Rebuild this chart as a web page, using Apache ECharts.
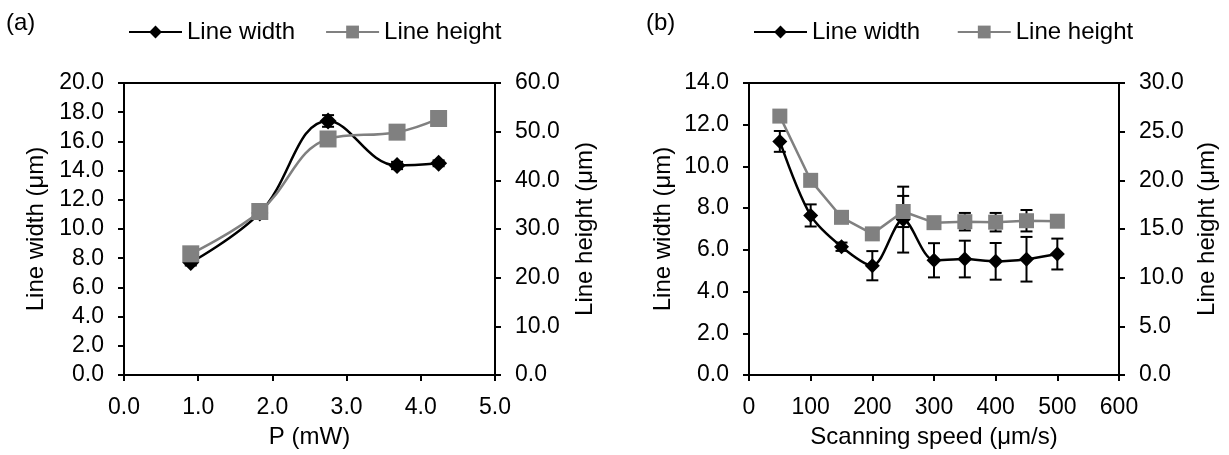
<!DOCTYPE html>
<html>
<head>
<meta charset="utf-8">
<script src="https://cdn.jsdelivr.net/npm/echarts@6/dist/echarts.min.js"></script>
<style>
  html, body { margin: 0; padding: 0; background: #fff; }
  #chart { width: 1229px; height: 455px; }
</style>
</head>
<body>
<div id="chart"></div>
<script>
  // (a) power series
  const powerMW = [0.9, 1.83, 2.75, 3.68, 4.24]
  const widthA = [7.7, 11.1, 17.4, 14.35, 14.5]
  const widthErrA = [0.2, 0.2, 0.4, 0.25, 0.2]
  const heightA = [24.9, 33.6, 48.5, 49.9, 52.7]
  const heightErrA = [0.3, 0.3, 0.4, 0.3, 0.3]

  // (b) scanning speed series
  const speed = [50, 100, 150, 200, 250, 300, 350, 400, 450, 500]
  const widthB = [11.2, 7.65, 6.15, 5.24, 7.45, 5.5, 5.56, 5.45, 5.55, 5.8]
  const widthErrB = [0.5, 0.53, 0.2, 0.7, 1.58, 0.82, 0.88, 0.88, 1.07, 0.74]
  const heightB = [26.6, 20.0, 16.2, 14.5, 16.8, 15.65, 15.75, 15.7, 15.85, 15.8]
  const heightErrB = [0.5, 0.4, 0.4, 0.4, 1.6, 0.5, 0.9, 0.95, 1.1, 0.5]

  const FONT = 'Liberation Sans'
  const FS = 23   // tick labels
  const FN = 24   // names, legend
  const GRAY = '#808080'

  const zip = (xs, ys) => xs.map((x, i) => [x, ys[i]])
  const zip3 = (xs, ys, es) => xs.map((x, i) => [x, ys[i], es[i]])

  function errorBars(rows, xi, yi) {
    return {
      type: 'custom',
      xAxisIndex: xi,
      yAxisIndex: yi,
      z: 5,
      silent: true,
      encode: { x: 0, y: 1 },
      data: rows,
      renderItem: function (params, api) {
        const x = api.value(0)
        const y = api.value(1)
        const e = api.value(2)
        const top = api.coord([x, y + e])
        const bot = api.coord([x, y - e])
        const w = 6
        const st = { stroke: '#000', lineWidth: 2 }
        return {
          type: 'group',
          children: [
            { type: 'line', shape: { x1: top[0], y1: top[1], x2: bot[0], y2: bot[1] }, style: st },
            { type: 'line', shape: { x1: top[0] - w, y1: top[1], x2: top[0] + w, y2: top[1] }, style: st },
            { type: 'line', shape: { x1: bot[0] - w, y1: bot[1], x2: bot[0] + w, y2: bot[1] }, style: st }
          ]
        }
      }
    }
  }

  function valueAxis(opt, label) {
    return Object.assign({
      type: 'value',
      axisLine: { show: true, onZero: false, lineStyle: { color: '#000', width: 2 } },
      axisTick: { show: true, inside: false, length: 6, lineStyle: { color: '#000', width: 2 } },
      axisLabel: Object.assign({ color: '#000', fontFamily: FONT, fontSize: FS, margin: 20 }, label),
      splitLine: { show: false },
      nameLocation: 'middle',
      nameTextStyle: { color: '#000', fontFamily: FONT, fontSize: FN }
    }, opt)
  }

  const fix1 = v => v.toFixed(1)
  const legendText = { fontFamily: FONT, fontSize: FN, color: '#000' }
  const titleText = { fontFamily: FONT, fontSize: FN, fontWeight: 'normal', color: '#000' }

  const chart = echarts.init(document.getElementById('chart'), null, { renderer: 'canvas' })
  chart.setOption({
    animation: false,
    textStyle: { fontFamily: FONT },
    title: [
      { text: '(a)', left: 6, top: 11, padding: 0, textStyle: titleText },
      { text: '(b)', left: 646, top: 11, padding: 0, textStyle: titleText }
    ],
    legend: [
      {
        left: 128, top: 20, padding: 0, itemWidth: 53, itemHeight: 16, itemGap: 30,
        textStyle: legendText,
        data: ['Line width', 'Line height']
      },
      {
        left: 753, top: 20, padding: 0, itemWidth: 53, itemHeight: 16, itemGap: 30,
        textStyle: legendText,
        data: ['Line width ', 'Line height ']
      }
    ],
    grid: [
      { left: 124, right: 734, top: 83, bottom: 80, show: true, borderColor: '#000', borderWidth: 2 },
      { left: 749, right: 110, top: 83, bottom: 80, show: true, borderColor: '#000', borderWidth: 2 }
    ],
    xAxis: [
      valueAxis({ gridIndex: 0, min: 0, max: 5, interval: 1, name: 'P (mW)', nameGap: 50 },
        { margin: 21, formatter: fix1 }),
      valueAxis({ gridIndex: 1, min: 0, max: 600, interval: 100, name: 'Scanning speed (μm/s)', nameGap: 50 },
        { margin: 21 })
    ],
    yAxis: [
      valueAxis({ gridIndex: 0, position: 'left', min: 0, max: 20, interval: 2, name: 'Line width (μm)', nameGap: 76, nameRotate: 90 },
        { formatter: fix1 }),
      valueAxis({ gridIndex: 0, position: 'right', min: 0, max: 60, interval: 10, name: 'Line height (μm)', nameGap: 78, nameRotate: 90 },
        { formatter: fix1 }),
      valueAxis({ gridIndex: 1, position: 'left', min: 0, max: 14, interval: 2, name: 'Line width (μm)', nameGap: 74, nameRotate: 90 },
        { formatter: fix1 }),
      valueAxis({ gridIndex: 1, position: 'right', min: 0, max: 30, interval: 5, name: 'Line height (μm)', nameGap: 76, nameRotate: 90 },
        { formatter: fix1 })
    ],
    series: [
      {
        name: 'Line width', type: 'line', xAxisIndex: 0, yAxisIndex: 0, smooth: 0.4, z: 3,
        data: zip(powerMW, widthA),
        symbol: 'diamond', symbolSize: 17,
        lineStyle: { color: '#000', width: 2.5 },
        itemStyle: { color: '#000' }
      },
      errorBars(zip3(powerMW, widthA, widthErrA), 0, 0),
      {
        name: 'Line height', type: 'line', xAxisIndex: 0, yAxisIndex: 1, smooth: 0.4, z: 6,
        data: zip(powerMW, heightA),
        symbol: 'rect', symbolSize: 17,
        lineStyle: { color: GRAY, width: 2.5 },
        itemStyle: { color: GRAY }
      },
      errorBars(zip3(powerMW, heightA, heightErrA), 0, 1),
      {
        name: 'Line width ', type: 'line', xAxisIndex: 1, yAxisIndex: 2, smooth: 0.3, z: 3,
        data: zip(speed, widthB),
        symbol: 'diamond', symbolSize: 15,
        lineStyle: { color: '#000', width: 2.5 },
        itemStyle: { color: '#000' }
      },
      errorBars(zip3(speed, widthB, widthErrB), 1, 2),
      {
        name: 'Line height ', type: 'line', xAxisIndex: 1, yAxisIndex: 3, z: 6,
        data: zip(speed, heightB),
        symbol: 'rect', symbolSize: 15,
        lineStyle: { color: GRAY, width: 2.5 },
        itemStyle: { color: GRAY }
      },
      errorBars(zip3(speed, heightB, heightErrB), 1, 3)
    ]
  })
</script>
</body>
</html>
